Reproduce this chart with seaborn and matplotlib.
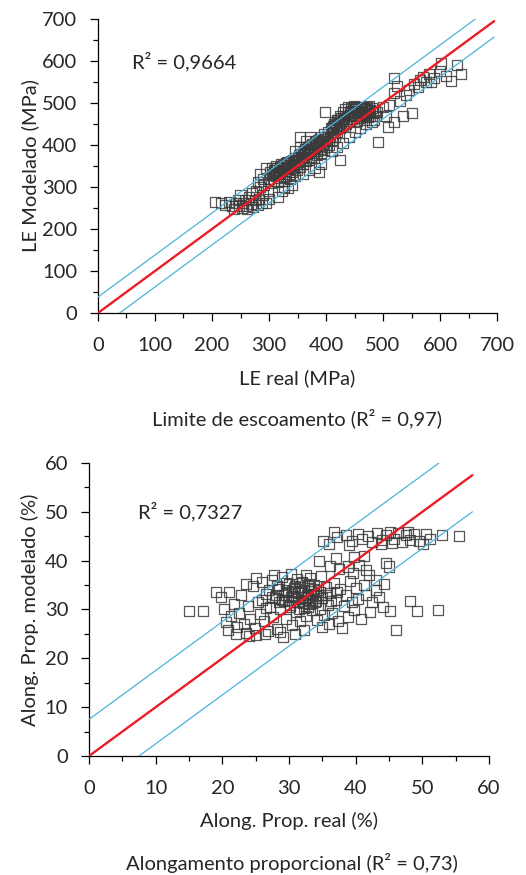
import matplotlib
matplotlib.use('Agg')
import matplotlib.pyplot as plt
import seaborn as sns
from matplotlib.ticker import MultipleLocator

# Limite de escoamento: real vs modelado (MPa)
le_real = [205, 215, 222, 230, 235, 238, 242, 245, 248, 250, 252, 255, 258, 260, 262, 265, 268, 270, 272, 275,
           278, 280, 282, 285, 288, 290, 292, 295, 298, 300,
           300, 302, 304, 305, 307, 309, 310, 312, 313, 315, 316, 318, 320, 321, 323, 325, 326, 328, 330, 331,
           333, 335, 336, 338, 340, 342, 344, 345, 347, 349,
           316, 322, 326, 334, 340, 290, 285, 295, 280,
           350, 352, 354, 355, 357, 359, 360, 362, 364, 365, 367, 369, 370, 372, 374, 375, 377, 379, 380, 382,
           384, 385, 387, 388, 389, 390, 392, 394, 395, 397, 399, 399,
           360, 370, 380, 392, 345, 355, 365, 372,
           400, 402, 404, 405, 407, 409, 410, 412, 414, 415, 417, 419, 420, 422, 424, 425, 425, 427, 429, 430,
           432, 434, 435, 437, 439, 440, 442, 444, 445, 447, 449, 450, 452, 454, 455, 457, 459, 460, 462, 464,
           465, 467, 469, 470, 472, 474, 476, 478, 480, 482, 484, 486, 488, 490,
           410, 420, 430, 440, 450, 460, 470, 480, 491, 509, 520, 505,
           500, 510, 520, 520, 525, 530, 535, 540, 545, 551, 555, 561, 565, 570, 575, 580, 585, 590, 600, 602,
           610, 620, 629, 637,
           305, 308, 311, 314, 317, 319, 322, 324, 327, 329, 332, 334, 337, 339, 343, 346, 348, 351, 353, 356,
           358, 361, 363, 366, 368, 371, 373, 376, 378, 381, 383, 386, 388, 391, 393, 396, 398,
           430, 433, 436, 438, 441, 443, 446, 448, 451, 453, 456, 458, 461, 463, 466, 468, 471, 473, 475, 477,
           410, 413, 416, 418, 421, 423, 426]
le_modelado = [265, 262, 258, 265, 255, 248, 262, 270, 255, 280, 250, 262, 270, 255, 248, 275, 260, 285, 252, 268,
               290, 258, 272, 300, 262, 280, 305, 261, 290, 272,
               320, 335, 310, 345, 328, 315, 340, 325, 350, 330, 312, 338, 322, 355, 330, 345, 315, 338, 325, 360,
               342, 330, 318, 350, 335, 365, 345, 325, 355, 340,
               276, 290, 300, 298, 305, 318, 330, 345, 312,
               360, 375, 420, 348, 368, 380, 355, 372, 390, 362, 378, 395, 365, 385, 372, 400, 380, 368, 392, 410,
               385, 375, 398, 336, 405, 390, 380, 415, 400, 388, 420, 479,
               330, 340, 345, 355, 385, 395, 410, 420,
               395, 410, 430, 400, 418, 440, 412, 428, 450, 420, 438, 460, 432, 448, 470, 365, 440, 455, 478, 445,
               462, 485, 450, 470, 490, 458, 475, 488, 462, 480, 492, 468, 485, 458, 475, 490, 465, 482, 470, 488,
               475, 460, 485, 472, 490, 466, 480, 470, 488, 475, 460, 482, 470, 478,
               385, 395, 405, 420, 430, 440, 450, 455, 408, 443, 455, 470,
               490, 495, 523, 559, 540, 505, 469, 520, 530, 477, 545, 539, 555, 563, 550, 570, 551, 560, 575, 594,
               565, 552, 590, 569,
               330, 340, 333, 345, 335, 348, 340, 352, 344, 356, 348, 358, 352, 362, 355, 368, 360, 372, 365, 378,
               370, 385, 378, 390, 383, 395, 388, 402, 395, 408, 400, 412, 405, 418, 410, 425, 415,
               458, 470, 462, 478, 468, 482, 472, 486, 476, 490, 480, 470, 488, 478, 490, 480, 486, 476, 492, 484,
               440, 445, 455, 448, 460, 452, 465]

# Alongamento proporcional: real vs modelado (%)
al_real = [35.1, 36.0, 37.2, 38.5, 39.4, 40.3, 41.0, 41.8, 42.5, 43.2, 44.0, 44.6, 45.2, 45.8, 46.3, 46.9, 47.5,
           48.2, 48.8, 49.5, 50.1, 50.6, 51.2, 53.0, 55.5, 36.8, 39.0, 43.8, 45.5, 47.9,
           34.5, 36.2, 37.5, 38.8, 39.6, 40.5, 41.5, 42.0, 43.0, 44.6, 44.2, 45.0, 37.0, 39.8, 41.2,
           19.8, 20.2, 20.5, 20.9, 21.3, 21.8, 22.2, 22.5, 22.8, 23.2, 23.5, 23.9, 24.2, 24.6, 24.9, 25.1, 25.3,
           25.6, 25.9, 26.2, 26.5, 26.8, 27.1, 27.4, 27.6, 27.9, 28.2, 28.4, 28.7, 29.0, 29.1, 29.3, 29.6, 29.8,
           30.0, 30.2, 30.4, 30.6, 30.8, 31.0, 31.2, 31.4, 31.6, 31.8, 32.0, 32.2, 32.4, 32.6, 32.8, 33.0, 33.2,
           33.4, 33.6, 33.8, 34.0, 34.2, 34.4, 34.6, 34.8, 35.0, 35.2, 35.5, 35.8, 36.1, 36.4, 36.7, 37.0, 37.3,
           37.6, 37.9, 38.2, 38.5, 38.8, 39.1, 39.4, 39.7, 40.0, 40.4, 40.8, 41.2, 41.6, 42.1, 42.5, 43.0, 43.5,
           44.1, 45.1, 46.1, 48.1, 49.2, 52.3, 15.0, 17.1, 19.0,
           28.5, 29.2, 29.9, 30.5, 31.1, 31.7, 32.1, 32.7, 33.1, 33.7, 34.1, 34.7, 30.1, 31.5, 32.9, 33.5, 28.0,
           27.0, 26.0, 29.5,
           22.0, 24.0, 26.4, 28.6, 30.9, 32.3, 34.9, 36.0, 21.0, 23.6, 25.0, 27.8, 30.3, 32.5,
           29.0, 29.6, 30.3, 30.9, 31.3, 31.9, 32.3, 32.8, 33.3, 33.9, 34.3, 30.7, 31.9, 33.0, 28.2, 27.4, 26.6,
           35.6, 36.3, 37.2]
al_modelado = [44.0, 43.5, 44.8, 45.2, 44.0, 45.5, 44.5, 45.0, 43.8, 45.6, 44.2, 45.3, 45.8, 44.5, 45.6, 43.9,
               45.2, 44.3, 45.5, 44.0, 43.5, 45.4, 44.4, 45.3, 45.0, 45.8, 43.2, 43.4, 43.6, 45.9,
               40.0, 39.0, 38.2, 38.8, 37.5, 39.2, 38.0, 37.0, 36.0, 39.6, 35.2, 38.8, 40.5, 40.8, 41.0,
               32.5, 30.0, 27.5, 25.8, 28.6, 31.2, 26.4, 29.2, 33.0, 27.0, 25.2, 30.8, 28.0, 34.8, 26.2, 24.8, 31.5,
               29.0, 35.6, 27.6, 33.2, 25.6, 30.5, 36.0, 28.4, 32.4, 26.0, 34.2, 30.0, 36.6, 24.3, 31.8, 28.0, 33.6,
               35.2, 30.6, 26.8, 32.8, 34.4, 29.4, 36.2, 31.6, 27.6, 33.8, 35.6, 30.4, 32.6, 28.6, 34.8, 31.2, 36.4,
               29.8, 33.2, 35.0, 31.8, 27.8, 34.0, 30.2, 36.8, 32.4, 28.8, 34.6, 31.0, 33.4, 29.2, 35.4, 32.0, 27.6,
               34.2, 26.3, 30.8, 33.0, 28.4, 35.8, 31.6, 29.8, 34.4, 32.2, 28.0, 35.0, 33.0, 29.5, 31.6, 34.0, 32.6,
               30.6, 29.6, 25.7, 31.8, 29.7, 29.9, 29.6, 29.6, 33.5,
               31.5, 33.0, 32.0, 33.8, 32.2, 34.6, 31.4, 33.0, 32.0, 34.2, 32.8, 33.6, 31.0, 30.0, 30.6, 31.4, 33.0,
               34.0, 32.0, 35.5,
               25.0, 24.6, 24.9, 25.3, 25.0, 25.8, 26.4, 27.0, 33.5, 35.2, 36.4, 37.0, 37.2, 37.0,
               32.0, 34.0, 32.6, 34.8, 33.4, 31.8, 34.0, 32.4, 33.8, 31.6, 33.0, 31.6, 35.4, 35.2, 34.8, 32.6, 30.4,
               33.0, 31.8, 33.6]

# reference line y = x (end), band offset of the two limit lines
le_line_end = 695
le_band = 38
al_line_end = 57.5
al_band = 7.5

sns.set_theme(style='ticks')
plt.rcParams['font.family'] = ['Lato', 'DejaVu Sans']
plt.rcParams['axes.linewidth'] = 0.9

fig = plt.figure(figsize=(5.26, 8.75), dpi=100)
ax1 = fig.add_axes([0.1863, 0.6423, 0.7586, 0.336])
ax2 = fig.add_axes([0.1692, 0.136, 0.7605, 0.3349])

marker_kw = dict(marker='s', s=52, facecolor='none', edgecolor='#3a3a3a', linewidth=0.9, alpha=0.85)
red = '#ec1c24'
blue = '#48b4e2'
fs = 14.5


def draw_panel(ax, xs, ys, line_end, band, lim, major, minor):
    sns.scatterplot(x=xs, y=ys, ax=ax, zorder=2, **marker_kw)
    ax.plot([0, lim - band], [band, lim], color=blue, lw=0.9, zorder=3)
    ax.plot([band, line_end], [0, line_end - band], color=blue, lw=0.9, zorder=3)
    ax.plot([0, line_end], [0, line_end], color=red, lw=1.7, zorder=4)
    ax.set_xlim(0, lim)
    ax.set_ylim(0, lim)
    ax.xaxis.set_major_locator(MultipleLocator(major))
    ax.yaxis.set_major_locator(MultipleLocator(major))
    ax.xaxis.set_minor_locator(MultipleLocator(minor))
    ax.yaxis.set_minor_locator(MultipleLocator(minor))
    ax.tick_params(which='major', direction='out', length=6, width=0.9, labelsize=fs, color='black')
    ax.tick_params(axis='x', which='major', pad=11)
    ax.tick_params(axis='y', which='major', pad=9)
    ax.tick_params(which='minor', direction='out', length=3.5, width=0.9, color='black')
    for sp in ['left', 'bottom']:
        ax.spines[sp].set_color('black')
    sns.despine(ax=ax)


draw_panel(ax1, le_real, le_modelado, le_line_end, le_band, 700, 100, 50)
ax1.set_xlabel('LE real (MPa)', fontsize=fs, labelpad=11)
ax1.set_ylabel('LE Modelado (MPa)', fontsize=fs, labelpad=2)
ax1.text(60, 598, 'R² = 0,9664', fontsize=fs, va='center')
fig.text(0.565, 1 - 418 / 875, 'Limite de escoamento (R² = 0,97)', fontsize=fs, ha='center', va='center')

draw_panel(ax2, al_real, al_modelado, al_line_end, al_band, 60, 10, 5)
ax2.set_xlabel('Along. Prop. real (%)', fontsize=fs, labelpad=11)
ax2.set_ylabel('Along. Prop. modelado (%)', fontsize=fs, labelpad=4)
ax2.text(7.3, 50, 'R² = 0,7327', fontsize=fs, va='center')
fig.text(0.555, 1 - 863 / 875, 'Alongamento proporcional (R² = 0,73)', fontsize=fs, ha='center', va='center')

fig.savefig('out.png', dpi=100)
